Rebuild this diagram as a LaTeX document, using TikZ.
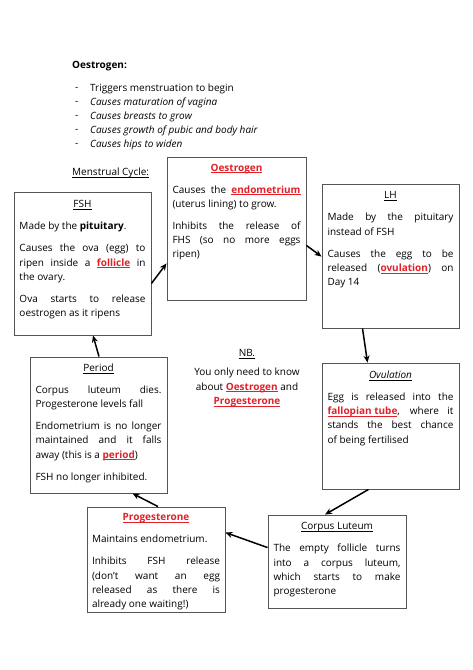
\documentclass[tikz,border=0pt]{standalone}
\usepackage{fontspec}
\setmainfont{Open Sans}
\usetikzlibrary{arrows.meta}
\definecolor{boxGray}{RGB}{85,85,85}
\definecolor{keyRed}{RGB}{226,32,40}
\newcommand{\uline}[1]{\leavevmode\setbox0\hbox{#1}\rlap{\rule[-1.8pt]{\wd0}{0.6pt}}\box0}
\newcommand{\keyword}[1]{\textcolor{keyRed}{\uline{\textbf{#1}}}}

\begin{document}
\begin{tikzpicture}[x=1pt,y=-1pt,
    box/.style={draw=boxGray,line width=0.9pt,inner sep=0pt},
    boxtext/.style={anchor=north,inner sep=0pt,align=justify,
      font=\fontsize{10}{14.3}\selectfont,
      execute at begin node={\setlength{\parskip}{7.7pt}\tolerance=9999}},
    plain/.style={inner sep=0pt,font=\fontsize{10}{14.3}\selectfont},
    flow/.style={-{Stealth[length=7pt,width=6pt]},line width=1.5pt}]
            \fill[white] (0,0) rectangle (473,670);
            \useasboundingbox (0,0) rectangle (473,670);

            % Intro list
            \node[plain,anchor=west] (title) at (72,66) {\textbf{Oestrogen:}};
            \node[plain,anchor=west] (dash1) at (75,89) {-};
            \node[plain,anchor=west] (item1) at (90,89) {Triggers menstruation to begin};
            \node[plain,anchor=west] (dash2) at (75,103) {-};
            \node[plain,anchor=west] (item2) at (90,103) {\textit{Causes maturation of vagina}};
            \node[plain,anchor=west] (dash3) at (75,117) {-};
            \node[plain,anchor=west] (item3) at (90,117) {\textit{Causes breasts to grow}};
            \node[plain,anchor=west] (dash4) at (75,131) {-};
            \node[plain,anchor=west] (item4) at (90,131) {\textit{Causes growth of pubic and body hair}};
            \node[plain,anchor=west] (dash5) at (75,145) {-};
            \node[plain,anchor=west] (item5) at (90,145) {\textit{Causes hips to widen}};
            \node[plain,anchor=west] (cycle) at (72,173) {\uline{Menstrual Cycle:}};

            % Boxes
            \node[box,minimum width=137pt,minimum height=143pt] (fsh) at (82.5,263.5) {};
            \node[box,minimum width=139pt,minimum height=143pt] (oest) at (236.5,228.5) {};
            \node[box,minimum width=137pt,minimum height=144pt] (lh) at (390.5,256) {};
            \node[box,minimum width=137pt,minimum height=126pt] (ovul) at (390.5,426) {};
            \node[box,minimum width=137pt,minimum height=136pt] (period) at (98.5,425) {};
            \node[box,minimum width=138pt,minimum height=105pt] (prog) at (156,559.5) {};
            \node[box,minimum width=138pt,minimum height=93pt] (cl) at (337,561.5) {};

            % Box texts
            \node[boxtext,text width=126pt] (fshtext) at ([yshift=-9pt]fsh.north) {%
              {\centering\uline{FSH}\par}
              Made by the \textbf{pituitary}.\par
              Causes the ova (egg) to\linebreak ripen inside a \keyword{follicle} in\linebreak the ovary.\par
              Ova starts to release\linebreak oestrogen as it ripens\par};
            \node[boxtext,text width=128pt] (oesttext) at ([yshift=-7pt]oest.north) {%
              {\centering\keyword{Oestrogen}\par}
              Causes the \keyword{endometrium}\linebreak (uterus lining) to grow.\par
              Inhibits the release of\linebreak FHS (so no more eggs\linebreak ripen)\par};
            \node[boxtext,text width=126pt] (lhtext) at ([yshift=-8pt]lh.north) {%
              {\centering\uline{LH}\par}
              Made by the pituitary\linebreak instead of FSH\par
              Causes the egg to be\linebreak released (\keyword{ovulation}) on\linebreak Day 14\par};
            \node[boxtext,text width=126pt] (ovultext) at ([yshift=-8pt]ovul.north) {%
              {\centering\uline{\textit{Ovulation}}\par}
              Egg is released into the\linebreak \keyword{fallopian tube}, where it\linebreak stands the best chance\linebreak of being fertilised\par};
            \node[boxtext,text width=126pt] (periodtext) at ([yshift=-7pt]period.north) {%
              {\centering\uline{Period}\par}
              Corpus luteum dies.\linebreak Progesterone levels fall\par
              Endometrium is no longer\linebreak maintained and it falls\linebreak away (this is a \keyword{period})\par
              FSH no longer inhibited.\par};
            \node[boxtext,text width=128pt] (progtext) at ([yshift=-7pt]prog.north) {%
              {\centering\keyword{Progesterone}\par}
              Maintains endometrium.\par
              Inhibits FSH release\linebreak (don't want an egg\linebreak released as there is\linebreak already one waiting!)\par};
            \node[boxtext,text width=127pt] (cltext) at ([yshift=-8pt]cl.north) {%
              {\centering\uline{Corpus Luteum}\par}
              The empty follicle turns\linebreak into a corpus luteum,\linebreak which starts to make\linebreak progesterone\par};

            % Note
            \node[plain] (nb) at (247,354) {\uline{NB.}};
            \node[plain,align=center,anchor=north] (nbtext) at (247,368) {You only need to know\\about \keyword{Oestrogen} and\\\keyword{Progesterone}};

            % Cycle arrows
            \draw[flow] ([yshift=52pt]fsh.south east) -- ([yshift=37pt]oest.south west);
            \draw[flow] ([yshift=55pt]oest.south east) -- ([yshift=-73pt]lh.north west);
            \draw[flow] ([xshift=-28pt]lh.south) -- ([xshift=-23pt]ovul.north);
            \draw[flow] ([xshift=-22pt]ovul.south) -- ([xshift=-12pt]cl.north);
            \draw[flow] ([yshift=-33pt]cl.north west) -- ([yshift=-26pt]prog.north east);
            \draw[flow] ([xshift=2pt]prog.north) -- ([xshift=34pt]period.south);
            \draw[flow] ([xshift=0.5pt]period.north) -- ([xshift=10.5pt]fsh.south);
\end{tikzpicture}
\end{document}
